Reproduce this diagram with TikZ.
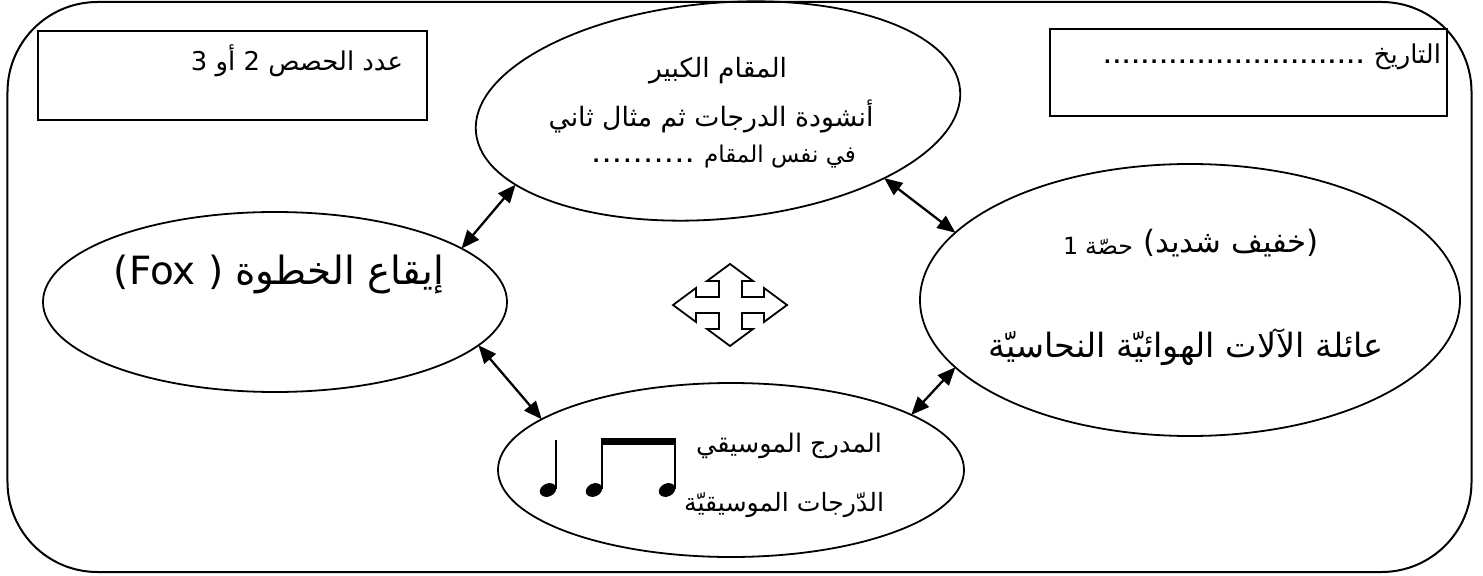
\documentclass[tikz,border=0pt]{standalone}
\usepackage{fontspec}
\usetikzlibrary{shapes.geometric,arrows.meta}
\TeXXeTstate=1
\newfontfamily\ar[Script=Arabic]{DejaVu Sans}
\newfontfamily\lat{DejaVu Sans}
\newlength\tmpw
% set #2 at the font size that makes it #1 bp wide
\newcommand\fitfont[2]{\settowidth\tmpw{\fontsize{20}{24}\selectfont#2}%
  \pgfmathsetmacro\fsz{20*#1*1.00375/\tmpw}%
  \fontsize{\fsz}{\fsz}\selectfont#2}
\newcommand\dotrow[2]{\hbox to #1{\xleaders\hbox to #2{\hss.\hss}\hfil}}
\tikzset{
  ell/.style={draw, ellipse, line width=1.8bp, inner sep=0pt, outer sep=0pt},
  boxx/.style={draw, rectangle, line width=2.5bp, inner sep=0pt, outer sep=0pt},
  txt/.style={inner sep=0pt, outer sep=0pt},
  dblarrow/.style={line width=2.3bp, {Triangle[length=18bp,width=15bp]}-{Triangle[length=18bp,width=15bp]}},
  notestem/.style={line width=2bp},
}
\begin{document}
% size of the small box texts
\settowidth\tmpw{\fontsize{20}{24}\selectfont\ar\beginR عدد الحصص 2 أو 3\endR}%
\pgfmathsetmacro\boxfs{20*212*1.00375/\tmpw}\global\let\boxfs\boxfs
\begin{tikzpicture}[x=1bp,y=-1bp]
\useasboundingbox (0,0) rectangle (1483,576);
% outer frame
\node[draw, line width=2bp, rounded corners=90bp, minimum width=1464bp, minimum height=570bp, inner sep=0pt, outer sep=0pt] (frame) at (739.5,287) {};
% top boxes
\node[boxx, minimum width=389bp, minimum height=89bp] (nbox) at (232.5,75.5) {};
\node[txt, anchor=east] (ntxt) at (403,61) {\fontsize{\boxfs}{\boxfs}\selectfont\ar\beginR عدد الحصص 2 أو 3\endR};
\node[boxx, minimum width=397bp, minimum height=87bp] (dbox) at (1248.5,72.5) {};
\node[txt, anchor=east] (dtxt) at (1441,57) {\hbox{{\lat\bfseries\fontsize{19}{20}\selectfont\dotrow{262bp}{9.2bp}}\hskip9bp{\fontsize{\boxfs}{\boxfs}\selectfont\ar التاريخ}}};
% ellipses
\node[ell, minimum width=486bp, minimum height=216bp, rotate=5] (top) at (718,111) {};
\node[ell, minimum width=464bp, minimum height=180bp] (left) at (275,302) {};
\node[ell, minimum width=540bp, minimum height=272bp] (right) at (1190,300) {};
\node[ell, minimum width=466bp, minimum height=174bp] (bottom) at (731,470) {};
% top ellipse text
\node[txt] (t1) at (718,71) {\fitfont{138}{\ar\beginR المقام الكبير\endR}};
\node[txt] (t2) at (711,116) {\fitfont{325}{\ar\beginR أنشودة الدرجات ثم مثال ثاني\endR}};
\node[txt, anchor=east] (t3) at (856,157) {\hbox{{\lat\bfseries\fontsize{19}{20}\selectfont\dotrow{104bp}{10.4bp}}\hskip9bp{\fitfont{152}{\ar\beginR في نفس المقام\endR}}}};
% right ellipse text
\node[txt, anchor=east] (r1a) at (1133,246) {\fitfont{70}{{\lat 1}\ {\ar حصّة}}};
\node[txt, anchor=west] (r1b) at (1143,243) {\fitfont{176}{{\lat(}{\ar\beginR خفيف شديد\endR}{\lat)}}};
\node[txt] (r2) at (1186,347) {\fitfont{395}{\ar\beginR عائلة الآلات الهوائيّة النحاسيّة\endR}};
% left ellipse text
\node[txt] (l1) at (279,274) {\fitfont{330}{{\lat(Fox )}\ {\ar\beginR إيقاع الخطوة\endR}}};
% bottom ellipse text
\node[txt, anchor=east] (b1) at (882,446) {\fitfont{186}{\ar\beginR المدرج الموسيقي\endR}};
\node[txt, anchor=east] (b2) at (884,505) {\fitfont{200}{\ar\beginR الدّرجات الموسيقيّة\endR}};
% notes
\fill[rotate around={25:(548,490)}] (548,490) ellipse [x radius=8.5bp, y radius=6.5bp];
\fill[rotate around={25:(594,490)}] (594,490) ellipse [x radius=8.5bp, y radius=6.5bp];
\fill[rotate around={25:(667,490)}] (667,490) ellipse [x radius=8.5bp, y radius=6.5bp];
\draw[notestem] (555.5,489) -- (555.5,440);
\draw[notestem] (601.5,489) -- (601.5,441);
\draw[notestem] (674.5,489) -- (674.5,441);
\fill (600.5,438) rectangle (675.5,445);
% quad arrow
\draw[line width=1.8bp, line join=miter] (730,264) -- (753,281) -- (742,281) -- (742,297) -- (764,297) -- (764,288) -- (787,305) -- (764,322) -- (764,313) -- (742,313) -- (742,329) -- (753,329) -- (730,346) -- (707,329) -- (719,329) -- (719,313) -- (696,313) -- (696,322) -- (673,305) -- (696,288) -- (696,297) -- (719,297) -- (719,281) -- (707,281) -- cycle;
% connectors
\draw[dblarrow] (top.195) -- (left.16);
\draw[dblarrow] (left.348) -- (bottom.165);
\draw[dblarrow] (top.333) -- (right.164);
\draw[dblarrow] (right.196) -- (bottom.17);
\end{tikzpicture}
\end{document}
